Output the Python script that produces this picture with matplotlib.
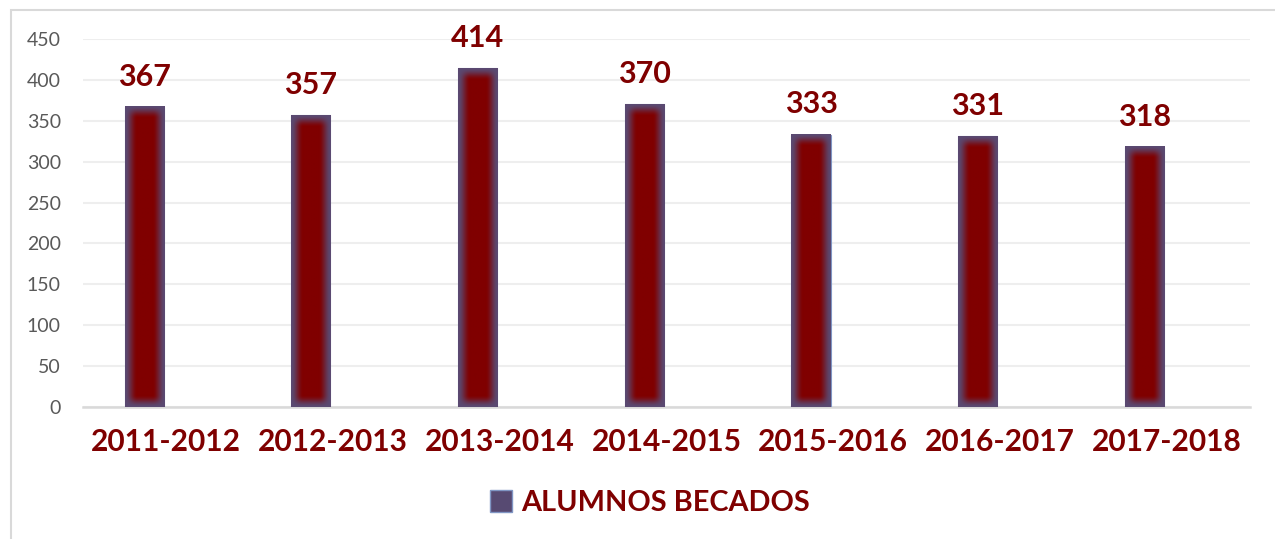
import numpy as np
import matplotlib
matplotlib.use("Agg")
from matplotlib import pyplot as plt
from matplotlib.patches import Rectangle
from matplotlib.colors import to_rgb

# data
years = ['2011-2012', '2012-2013', '2013-2014', '2014-2015', '2015-2016', '2016-2017', '2017-2018']
becados = [367, 357, 414, 370, 333, 331, 318]
series_name = 'ALUMNOS BECADOS'

DARK_RED = '#7f0000'
GLOW = to_rgb('#5a4a72')
CORE = to_rgb('#800000')


def glow_image(w_px, h_px, glow=12.0):
    # soft inner glow: slate at the edges fading into dark red
    w_px = max(int(w_px), 2)
    h_px = max(int(h_px), 2)
    xs = np.minimum(np.arange(w_px) + 0.5, w_px - np.arange(w_px) - 0.5)
    ys = np.minimum(np.arange(h_px) + 0.5, h_px - np.arange(h_px) - 0.5)
    sx = np.clip(xs / glow, 0, 1)
    sy = np.clip(ys / glow, 0, 1)
    sx = sx * sx * (3 - 2 * sx)
    sy = sy * sy * (3 - 2 * sy)
    t = sy[:, None] * sx[None, :]
    img = np.zeros((h_px, w_px, 3))
    for c in range(3):
        img[..., c] = GLOW[c] * (1 - t) + CORE[c] * t
    return img


fig = plt.figure(figsize=(12.75, 5.39), dpi=100)

# outer chart frame
fig.patches.append(Rectangle((11 / 1275, -0.1), 1.2, (539 - 10) / 539 + 0.1,
                             transform=fig.transFigure, fill=False,
                             edgecolor='#d9d9d9', linewidth=1.5))

ax = fig.add_axes([83 / 1275, (539 - 407) / 539, (1250 - 83) / 1275, 368 / 539])

x = np.arange(len(years))
offset = -0.133
width = 0.235
bars = ax.bar(x + offset, becados, width, color=DARK_RED, edgecolor='#8096c4',
              linewidth=0.8, zorder=3, label=series_name)

px_per_unit = 368 / 450
for rect, val in zip(bars, becados):
    x0 = rect.get_x()
    img = glow_image(39, val * px_per_unit)
    ax.imshow(img, extent=[x0, x0 + width, 0, val], aspect='auto',
              zorder=3.5, interpolation='bilinear')
    ax.text(x0 + width / 2, val + 20, str(val), ha='center', va='bottom',
            fontsize=22, fontweight='bold', family='Lato', color=DARK_RED)

ax.set_aspect('auto')
ax.set_xlim(-0.5, len(years) - 0.5)
ax.set_ylim(0, 450)

ax.set_yticks(np.arange(0, 451, 50))
ax.yaxis.grid(True, color='#eeeeee', linewidth=1.5, zorder=0)
ax.set_axisbelow(True)
for s in ['top', 'right', 'left']:
    ax.spines[s].set_visible(False)
ax.spines['bottom'].set_color('#d9d9d9')
ax.spines['bottom'].set_linewidth(1.8)
ax.tick_params(axis='both', length=0)
ax.tick_params(axis='y', labelsize=14, labelcolor='#595959', pad=16)
for lab in ax.get_yticklabels():
    lab.set_family('Lato')

ax.set_xticks(x)
ax.set_xticklabels(years, fontsize=21.5, fontweight='bold', family='Lato', color=DARK_RED)
ax.tick_params(axis='x', pad=15)

handle = Rectangle((0, 0), 1, 1, facecolor='#574a72', edgecolor='#8096c4', linewidth=1)
leg = fig.legend([handle], [series_name], loc='center', bbox_to_anchor=(650 / 1275, 1 - 503 / 539),
                 frameon=False, handlelength=0.75, handleheight=0.75, handletextpad=0.3,
                 prop={'family': 'Lato', 'weight': 'bold', 'size': 20.8})
for t in leg.get_texts():
    t.set_color(DARK_RED)

fig.savefig('out.png', dpi=100)
